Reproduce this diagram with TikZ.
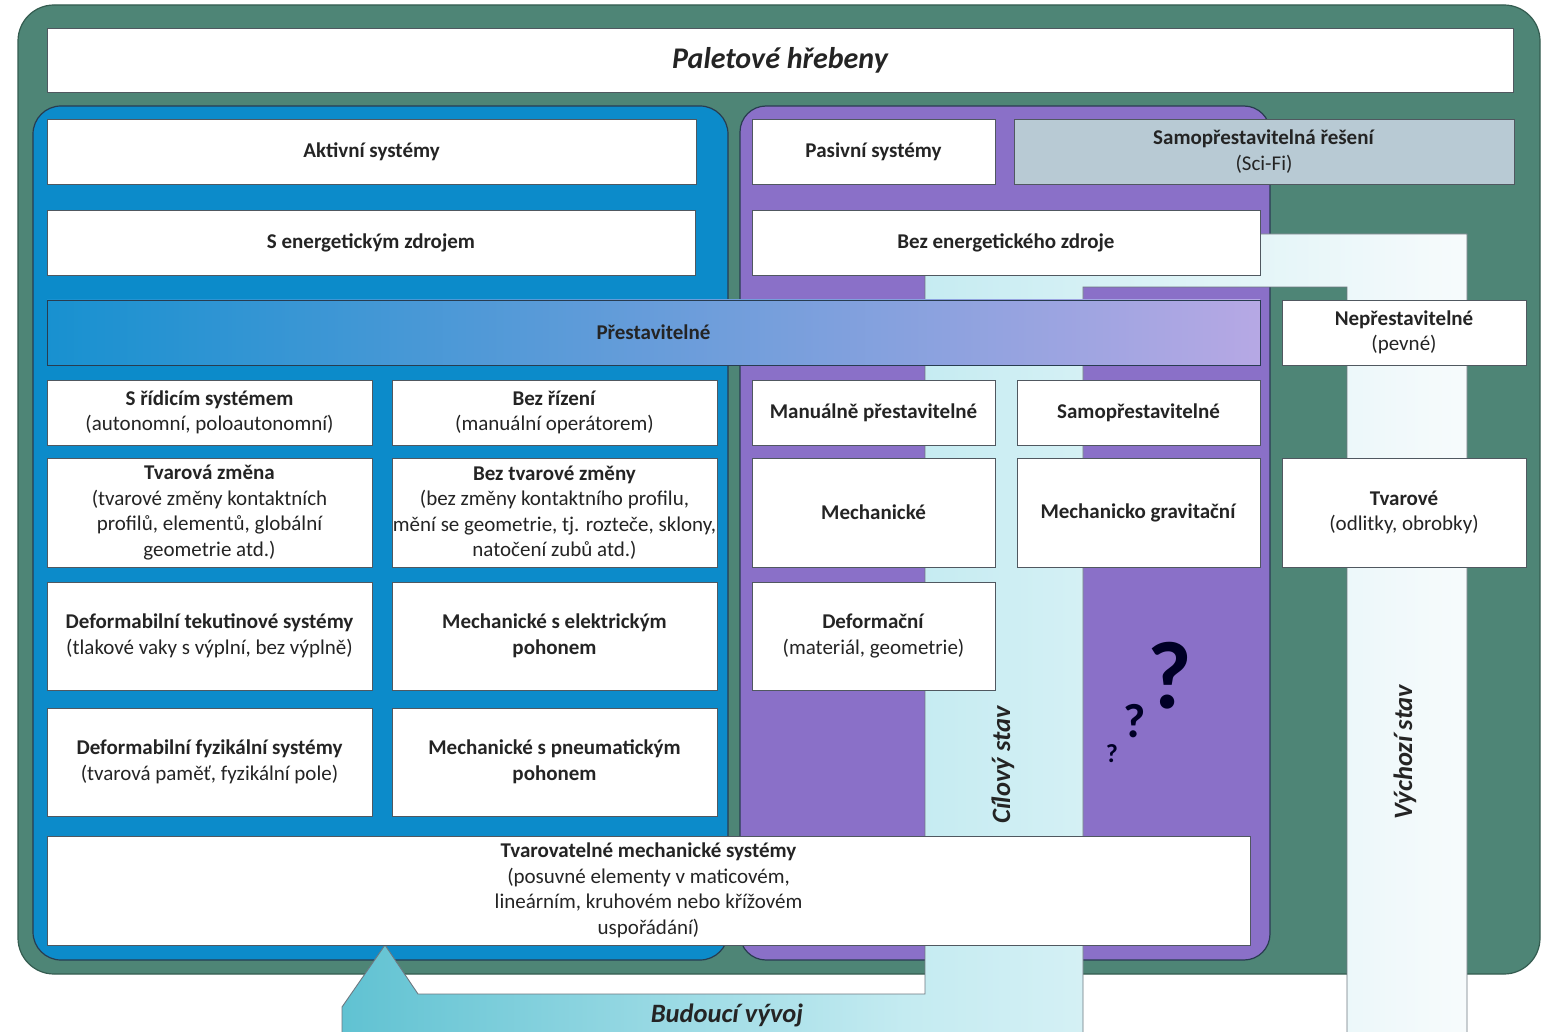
\documentclass[tikz,border=0pt]{standalone}
\usepackage{fontspec}
\setmainfont{Carlito}
\usetikzlibrary{fit,shadings}
\definecolor{outgreen}{RGB}{78,133,118}
\definecolor{greenedge}{RGB}{52,92,80}
\definecolor{actblue}{RGB}{12,139,202}
\definecolor{paspurple}{RGB}{138,112,200}
\definecolor{regedge}{RGB}{40,60,80}
\definecolor{scifi}{RGB}{184,202,212}
\definecolor{boxedge}{RGB}{80,88,96}
\definecolor{txt}{RGB}{36,36,36}
\definecolor{barL}{RGB}{24,145,208}
\definecolor{barR}{RGB}{182,168,228}
\definecolor{arrL}{RGB}{96,194,210}
\definecolor{arrM}{RGB}{196,235,241}
\definecolor{arrR}{RGB}{247,251,252}
\definecolor{arredge}{RGB}{110,120,128}
\tikzset{
  region/.style={draw=regedge, line width=1.2pt},
  box/.style={draw=boxedge, line width=0.9pt, fill=white, inner sep=0pt},
  boxtext/.style={align=center, text=txt, inner sep=0pt,
    font=\fontsize{21}{25.5}\selectfont},
  biglabel/.style={text=txt, font=\fontsize{26.5}{30}\selectfont\bfseries\itshape},
  qmark/.style={text=black!85!blue, font=\bfseries}
}
% \bx[box options]{name}{x1}{y1}{x2}{y2}{text}
\newcommand\bx[7][]{%
  \node[box,#1, fit={(#3,#4)(#5,#6)}] (#2) {};
  \node[boxtext] (#2-t) at (#2.center) {#7};}
\begin{document}
\begin{tikzpicture}[x=1pt,y=-1pt]
\useasboundingbox (0,0) rectangle (1545,1032);
\fill[white] (0,0) rectangle (1545,1032);
\clip (0,0) rectangle (1545,1032);
% regions
\draw[fill=outgreen, draw=greenedge, line width=1.2pt, rounded corners=36pt] (18,5) rectangle (1540,974);
\draw[region, fill=actblue, rounded corners=28pt] (33,106) rectangle (728,960);
\draw[region, fill=paspurple, rounded corners=26pt] (740,106) rectangle (1270,960);
% big arrow
\path[draw=arredge, line width=0.9pt, left color=arrL, right color=arrR, middle color=arrM]
  (342,1045) -- (342,1007) -- (385,945) -- (418,994) -- (925,994) -- (925,234)
  -- (1467,234) -- (1467,1045) -- (1347,1045) -- (1347,287) -- (1083,287)
  -- (1083,1045) -- cycle;
% title
\node[box, fit={(47,28)(1513,92)}] (title) {};
\node[boxtext, font=\fontsize{30}{34}\selectfont\bfseries\itshape] (title-t) at (title.center) {Paletové hřebeny};
% left column
\bx{akt}{47}{119}{696}{184}{\textbf{Aktivní systémy}}
\bx{sez}{47}{210}{695}{275}{\textbf{S energetickým zdrojem}}
\bx{srid}{47}{380}{372}{445}{\textbf{S řídicím systémem}\\(autonomní, poloautonomní)}
\bx{brid}{392}{380}{717}{445}{\textbf{Bez řízení}\\(manuální operátorem)}
\bx{tvz}{47}{458}{372}{567}{\textbf{Tvarová změna}\\(tvarové změny kontaktních\\profilů, elementů, globální\\geometrie atd.)}
\bx{btvz}{392}{458}{717}{567}{\textbf{Bez tvarové změny}\\(bez změny kontaktního profilu,\\mění se geometrie, tj. rozteče, sklony,\\natočení zubů atd.)}
\bx{dts}{47}{582}{372}{690}{\textbf{Deformabilní tekutinové systémy}\\(tlakové vaky s výplní, bez výplně)}
\bx{mep}{392}{582}{717}{690}{\textbf{Mechanické s elektrickým}\\\textbf{pohonem}}
\bx{dfs}{47}{708}{372}{816}{\textbf{Deformabilní fyzikální systémy}\\(tvarová paměť, fyzikální pole)}
\bx{mpp}{392}{708}{717}{816}{\textbf{Mechanické s pneumatickým}\\\textbf{pohonem}}
\bx{tms}{47}{836}{1250}{945}{\textbf{Tvarovatelné mechanické systémy}\\(posuvné elementy v maticovém,\\lineárním, kruhovém nebo křížovém\\uspořádání)}
% right column
\bx{pas}{752}{119}{995}{184}{\textbf{Pasivní systémy}}
\bx[fill=scifi]{scifi}{1014}{119}{1514}{184}{\textbf{Samopřestavitelná řešení}\\(Sci-Fi)}
\bx{bez}{752}{210}{1260}{275}{\textbf{Bez energetického zdroje}}
\bx[draw=regedge, left color=barL, right color=barR]{prest}{47}{300}{1260}{365}{\textbf{Přestavitelné}}
\bx{nepr}{1282}{300}{1526}{365}{\textbf{Nepřestavitelné}\\(pevné)}
\bx{man}{752}{380}{995}{445}{\textbf{Manuálně přestavitelné}}
\bx{samo}{1017}{380}{1260}{445}{\textbf{Samopřestavitelné}}
\bx{mech}{752}{458}{995}{567}{\textbf{Mechanické}}
\bx{mgrav}{1017}{458}{1260}{567}{\textbf{Mechanicko gravitační}}
\bx{tvar}{1282}{458}{1526}{567}{\textbf{Tvarové}\\(odlitky, obrobky)}
\bx{def}{752}{582}{995}{690}{\textbf{Deformační}\\(materiál, geometrie)}
% labels
\node[biglabel, rotate=90] (cil) at (1003,765) {Cílový stav};
\node[biglabel, rotate=90] (vych) at (1405,752) {Výchozí stav};
\node[biglabel] (bud) at (727,1015) {Budoucí vývoj};
\node[qmark, font=\fontsize{96}{96}\selectfont\bfseries] (q1) at (1170,676) {?};
\node[qmark, font=\fontsize{48}{48}\selectfont\bfseries] (q2) at (1135,721) {?};
\node[qmark, font=\fontsize{26}{26}\selectfont\bfseries] (q3) at (1112,754) {?};
\end{tikzpicture}
\end{document}
